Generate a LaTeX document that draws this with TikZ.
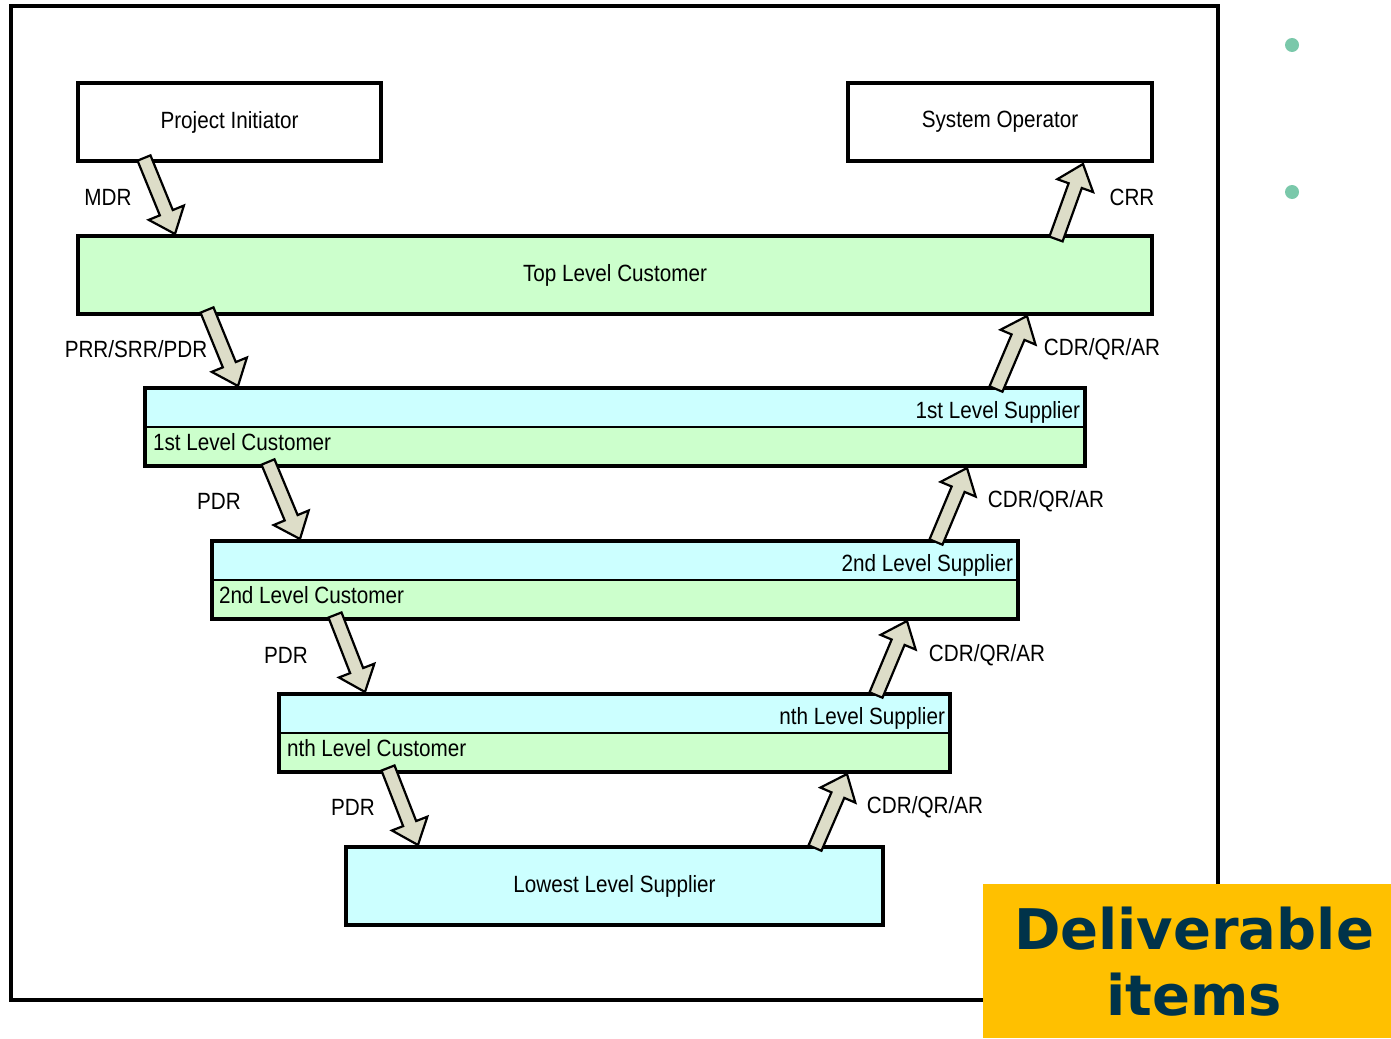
\documentclass[tikz,border=0pt]{standalone}
\usepackage{fontspec}
\setmainfont{Liberation Sans}[FakeStretch=0.88]
\newfontfamily\tagfont{DejaVu Sans}
\usetikzlibrary{calc,positioning}

\definecolor{custgreen}{HTML}{CCFFCC}
\definecolor{suppcyan}{HTML}{CCFFFF}
\definecolor{flowfill}{HTML}{DDDDC8}
\definecolor{tagyellow}{HTML}{FFC000}
\definecolor{tagnavy}{HTML}{00334A}
\definecolor{dotteal}{HTML}{7AC8AA}

% block arrow from #1 (tail) to #2 (tip)
\newcommand\feed[2]{%
  \draw[flow] ($(#1)!7pt!90:(#2)$)
    -- ($(#2)!23pt!(#1)!7pt!90:(#2)$)
    -- ($(#2)!23pt!(#1)!19pt!90:(#2)$)
    -- (#2)
    -- ($(#2)!23pt!(#1)!19pt!-90:(#2)$)
    -- ($(#2)!23pt!(#1)!7pt!-90:(#2)$)
    -- ($(#1)!7pt!-90:(#2)$) -- cycle;}

\begin{document}
\begin{tikzpicture}[
    x=1pt, y=-1pt,
    every node/.style={font=\fontsize{23.5}{26}\selectfont, inner sep=0pt, outer sep=0pt},
    box/.style={draw, line width=3.5pt, minimum height=78pt},
    half/.style={minimum height=39pt, anchor=north west},
    flow/.style={draw, line width=2.2pt, fill=flowfill, line join=miter},
    lbl/.style={}
]
\useasboundingbox (0,0) rectangle (1391,1038);
\draw[line width=3.5pt] (11,6) rectangle (1218,1000);

\node[box, minimum width=303pt] (pi) at (229.5,122) {Project Initiator};
\node[box, minimum width=304pt] (so) at (1000,122) {System Operator};
\node[box, fill=custgreen, minimum width=1074pt] (top) at (615,275) {Top Level Customer};

% supplier / customer tiers
\node[half, fill=suppcyan, minimum width=940pt] (s1) at (145,388) {};
\node[half, fill=custgreen, minimum width=940pt] (c1) at (145,427) {};
\node[half, fill=suppcyan, minimum width=806pt] (s2) at (212,541) {};
\node[half, fill=custgreen, minimum width=806pt] (c2) at (212,580) {};
\node[half, fill=suppcyan, minimum width=671pt] (s3) at (279,694) {};
\node[half, fill=custgreen, minimum width=671pt] (c3) at (279,733) {};
\foreach \t in {1,2,3} {
  \draw[line width=1.2pt] (s\t.south west) -- (s\t.south east);
  \draw[line width=3.5pt] (s\t.north west) rectangle (c\t.south east);
}
\node[anchor=base east] (s1-t) at ([xshift=-5pt,yshift=9pt]s1.south east) {1st Level Supplier};
\node[anchor=base west] (c1-t) at ([xshift=8pt,yshift=-23pt]c1.north west) {1st Level Customer};
\node[anchor=base east] (s2-t) at ([xshift=-5pt,yshift=9pt]s2.south east) {2nd Level Supplier};
\node[anchor=base west] (c2-t) at ([xshift=7pt,yshift=-23pt]c2.north west) {2nd Level Customer};
\node[anchor=base east] (s3-t) at ([xshift=-5pt,yshift=9pt]s3.south east) {nth Level Supplier};
\node[anchor=base west] (c3-t) at ([xshift=8pt,yshift=-23pt]c3.north west) {nth Level Customer};
\node[box, fill=suppcyan, minimum width=537pt] (low) at (614.5,886) {Lowest Level Supplier};

% arrow ends on the box edges
\coordinate (mdr-a) at ([xshift=66pt,yshift=3pt]pi.south west);
\coordinate (mdr-b) at ([xshift=97pt,yshift=2pt]top.north west);
\coordinate (prr-a) at ([xshift=129pt,yshift=4pt]top.south west);
\coordinate (prr-b) at ([xshift=93pt,yshift=2pt]s1.north west);
\coordinate (pdr1-a) at ([xshift=123pt,yshift=4pt]c1.south west);
\coordinate (pdr1-b) at ([xshift=88pt,yshift=2pt]s2.north west);
\coordinate (pdr2-a) at ([xshift=123pt,yshift=4pt]c2.south west);
\coordinate (pdr2-b) at ([xshift=86pt,yshift=2pt]s3.north west);
\coordinate (pdr3-a) at ([xshift=109pt,yshift=4pt]c3.south west);
\coordinate (pdr3-b) at ([xshift=72pt,yshift=2pt]low.north west);
\coordinate (crr-a) at ([xshift=-96pt,yshift=-3pt]top.north east);
\coordinate (crr-b) at ([xshift=-69pt,yshift=-3pt]so.south east);
\coordinate (cdr1-a) at ([xshift=-89pt,yshift=-1pt]s1.north east);
\coordinate (cdr1-b) at ([xshift=-125pt,yshift=-2pt]top.south east);
\coordinate (cdr2-a) at ([xshift=-82pt,yshift=-1pt]s2.north east);
\coordinate (cdr2-b) at ([xshift=-118pt,yshift=-2pt]c1.south east);
\coordinate (cdr3-a) at ([xshift=-74pt,yshift=-1pt]s3.north east);
\coordinate (cdr3-b) at ([xshift=-111pt,yshift=-2pt]c2.south east);
\coordinate (cdr4-a) at ([xshift=-68pt,yshift=-1pt]low.north east);
\coordinate (cdr4-b) at ([xshift=-103pt,yshift=-2pt]c3.south east);

\feed{mdr-a}{mdr-b}
\feed{prr-a}{prr-b}
\feed{pdr1-a}{pdr1-b}
\feed{pdr2-a}{pdr2-b}
\feed{pdr3-a}{pdr3-b}
\feed{crr-a}{crr-b}
\feed{cdr1-a}{cdr1-b}
\feed{cdr2-a}{cdr2-b}
\feed{cdr3-a}{cdr3-b}
\feed{cdr4-a}{cdr4-b}

\node[lbl] (mdr) at (108,197) {MDR};
\node[lbl] (prr) at (136,349) {PRR/SRR/PDR};
\node[lbl] (pdr1) at (219,501) {PDR};
\node[lbl] (pdr2) at (286,655) {PDR};
\node[lbl] (pdr3) at (353,807) {PDR};
\node[lbl] (crr) at (1132,197) {CRR};
\node[lbl] (cdr1) at (1102,349) {CDR/QR/AR};
\node[lbl] (cdr2) at (1046,501) {CDR/QR/AR};
\node[lbl] (cdr3) at (987,655) {CDR/QR/AR};
\node[lbl] (cdr4) at (925,807) {CDR/QR/AR};

% bullets and title tag
\fill[dotteal] (1292,45) circle (7pt);
\fill[dotteal] (1292,192) circle (7pt);
\fill[tagyellow] (983,884) rectangle (1391,1038);
\node[font=\tagfont\bfseries\fontsize{56}{66}\selectfont, text=tagnavy, align=center] (tag) at (1194,962) {Deliverable\\items};
\end{tikzpicture}
\end{document}
